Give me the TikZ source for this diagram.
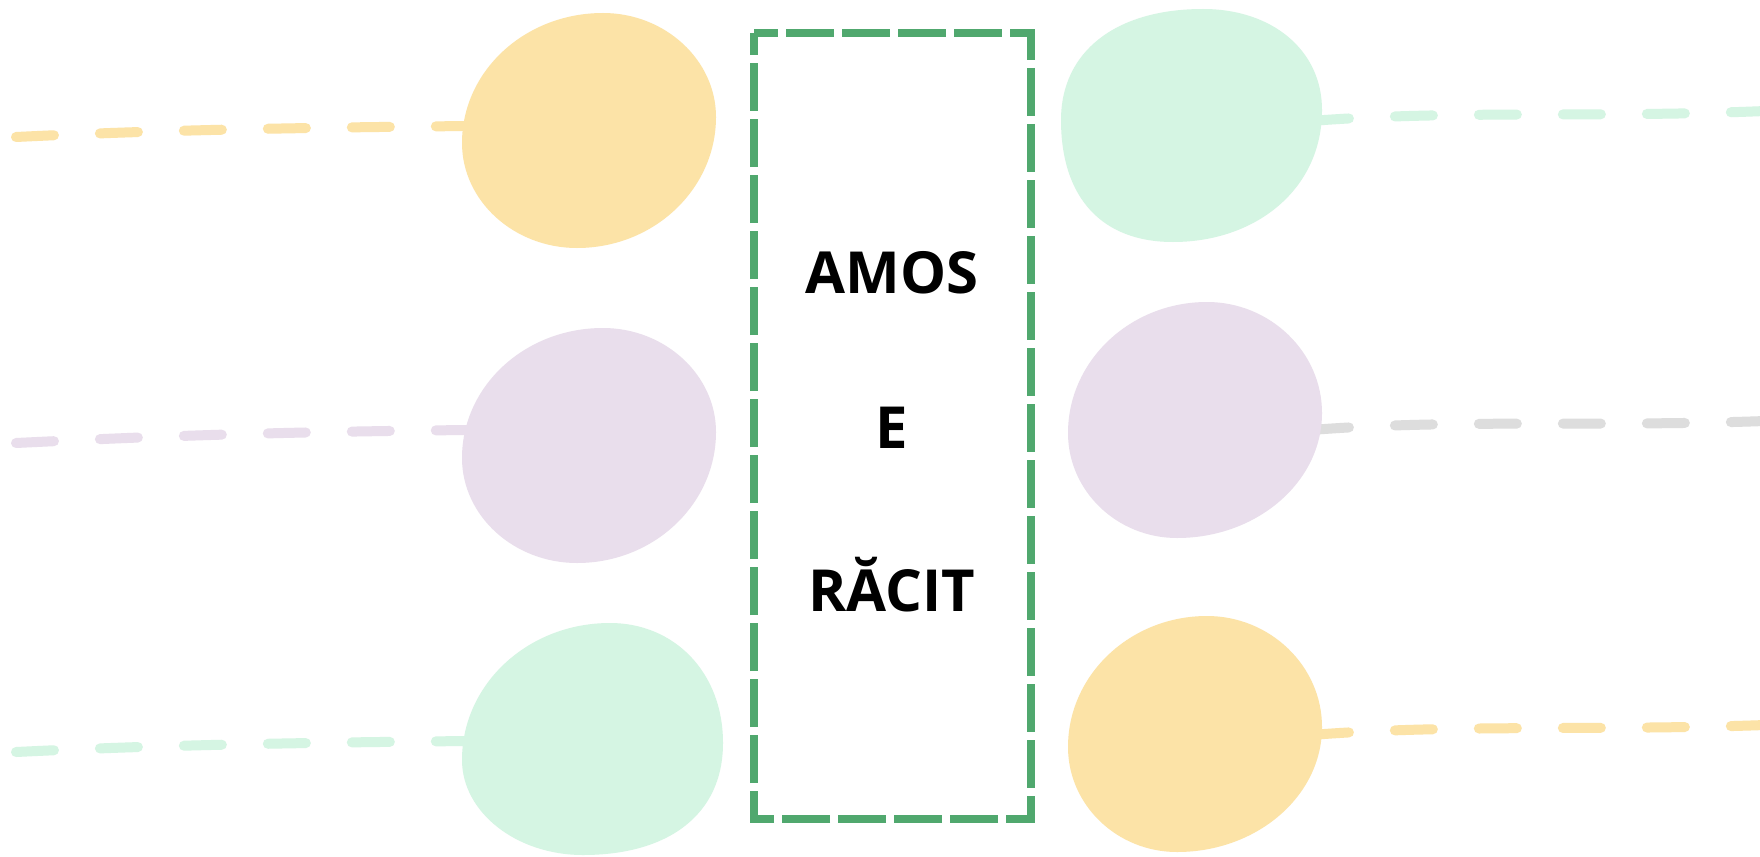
\documentclass[tikz,border=0pt]{standalone}
\usepackage{fontspec}
\setmainfont{Open Sans}
\definecolor{cyellow}{HTML}{FCE3A7}
\definecolor{cpurple}{HTML}{E9DEEC}
\definecolor{cmint}{HTML}{D5F5E3}
\definecolor{cgray}{HTML}{DDDDDD}
\definecolor{cbox}{HTML}{50A86E}
\begin{document}
\begin{tikzpicture}[x=1pt,y=-1pt,
  conn/.style={line width=10pt,line cap=round,dash pattern=on 38pt off 46pt},
  lbl/.style={font=\fontsize{58}{60}\selectfont\bfseries,text=black,inner sep=0pt}]
\useasboundingbox[fill=white] (0,0) rectangle (1760,856);
% connector end points
\coordinate (l1a) at (16,137); \coordinate (l1b) at (470,126);
\coordinate (l2a) at (16,443); \coordinate (l2b) at (470,430);
\coordinate (l3a) at (16,752); \coordinate (l3b) at (470,741);
\coordinate (r1a) at (1311,121); \coordinate (r1b) at (1765,111);
\coordinate (r2a) at (1311,430); \coordinate (r2b) at (1765,421);
\coordinate (r3a) at (1311,735); \coordinate (r3b) at (1765,725);
% connectors
\draw[conn,cyellow] (l1a) .. controls (140,131) and (260,128) .. (l1b);
\draw[conn,cpurple] (l2a) .. controls (140,437) and (260,432) .. (l2b);
\draw[conn,cmint]   (l3a) .. controls (140,746) and (260,743) .. (l3b);
\draw[conn,cmint]   (r1a) .. controls (1450,110) and (1600,118) .. (r1b);
\draw[conn,cgray]   (r2a) .. controls (1450,419) and (1600,427) .. (r2b);
\draw[conn,cyellow] (r3a) .. controls (1450,724) and (1600,731) .. (r3b);
% blobs left
\fill[cyellow] (603,13) .. controls (665,13) and (716,60) .. (716,117)
  .. controls (716,189) and (654,248) .. (577,248)
  .. controls (514,248) and (462,201) .. (462,143)
  .. controls (462,71) and (525,13) .. cycle;
\fill[cpurple] (603,328) .. controls (665,328) and (716,375) .. (716,432)
  .. controls (716,504) and (654,563) .. (577,563)
  .. controls (514,563) and (462,516) .. (462,458)
  .. controls (462,386) and (525,328) .. cycle;
\fill[cmint] (610,623) .. controls (674,623) and (723,672) .. (723,743)
  .. controls (723,815) and (668,855) .. (583,855)
  .. controls (516,855) and (462,812) .. (462,760)
  .. controls (462,684) and (528,623) .. cycle;
% blobs right
\fill[cmint] (1203,9) .. controls (1272,9) and (1322,50) .. (1322,110)
  .. controls (1322,190) and (1255,242) .. (1173,242)
  .. controls (1102,242) and (1061,198) .. (1061,120)
  .. controls (1061,52) and (1115,9) .. cycle;
\fill[cpurple] (1207,302) .. controls (1270,302) and (1322,352) .. (1322,413)
  .. controls (1322,482) and (1257,538) .. (1177,538)
  .. controls (1117,538) and (1068,491) .. (1068,433)
  .. controls (1068,361) and (1130,302) .. cycle;
\fill[cyellow] (1207,616) .. controls (1270,616) and (1322,666) .. (1322,727)
  .. controls (1322,796) and (1257,852) .. (1177,852)
  .. controls (1117,852) and (1068,805) .. (1068,747)
  .. controls (1068,675) and (1130,616) .. cycle;
% central box
\draw[cbox,line width=8pt,dash pattern=on 48pt off 8pt,dash phase=24pt]
  (754,33) -- (1031,33) -- (1031,819) -- (754,819) -- cycle;
\node[lbl] (t1) at (892,273) {AMOS};
\node[lbl] (t2) at (892,428) {E};
\node[lbl] (t3) at (892,585) {RĂCIT};
\end{tikzpicture}
\end{document}
